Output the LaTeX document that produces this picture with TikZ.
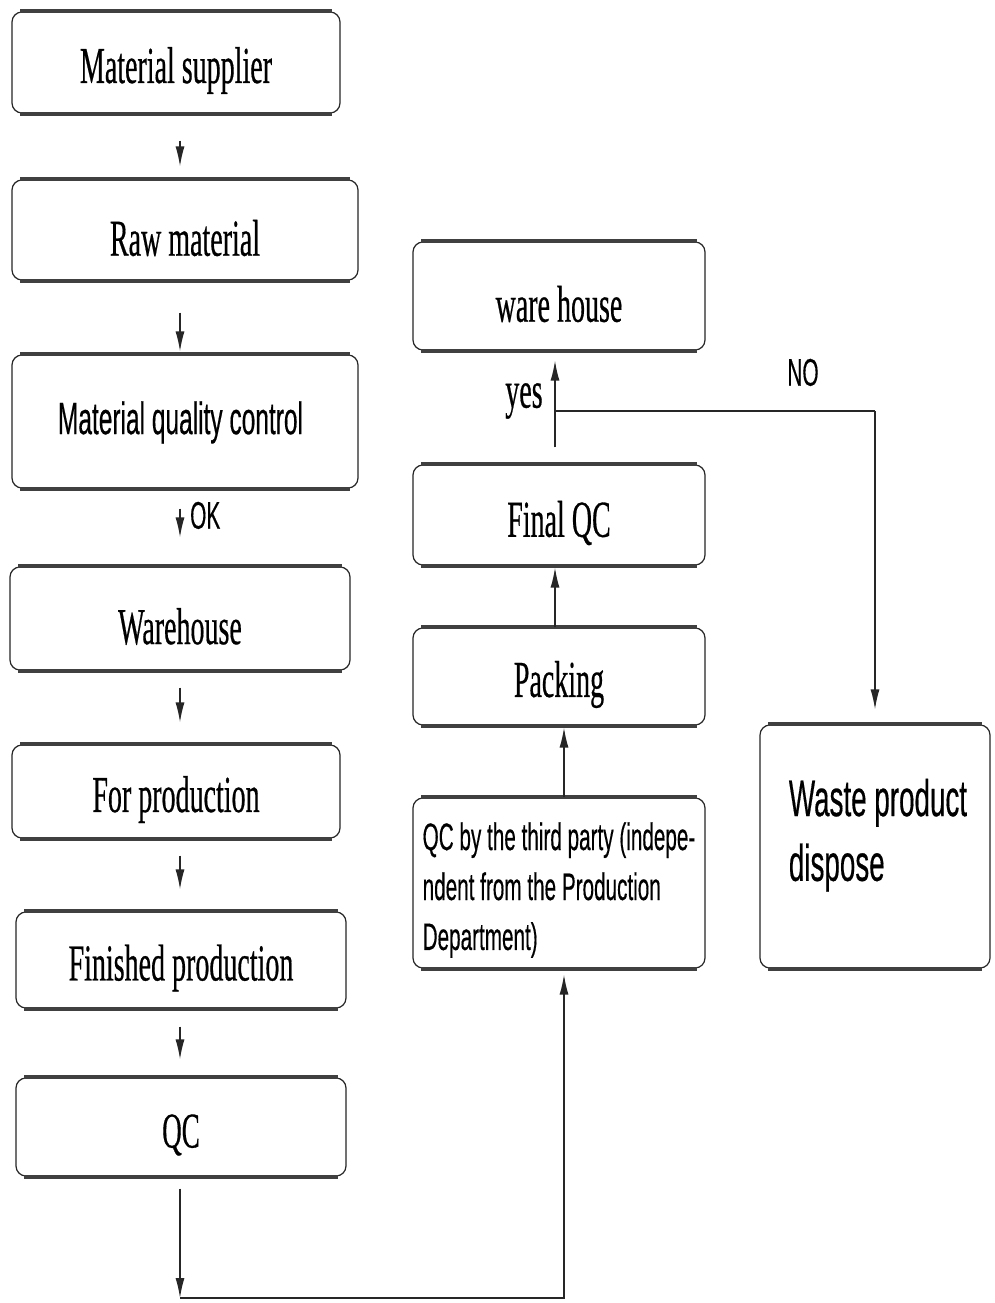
\documentclass[tikz,border=0pt]{standalone}
\usepackage{fontspec}
\usepackage{graphicx}
\setmainfont{Liberation Serif}
\setsansfont{Liberation Sans}
\newfontfamily\heavyserif[FakeBold=0.6]{Liberation Serif}
\newfontfamily\heavysans[FakeBold=0.5]{Liberation Sans}
\usetikzlibrary{arrows.meta}

% tall, narrow lettering: serif single line, and sans block of lines
\newcommand{\tallR}[2][28]{\raisebox{-8pt}[\height][\depth]{\scalebox{1}[1.85]{\fontsize{#1}{#1}\heavyserif #2}}}
\newcommand{\tallS}[3]{\scalebox{1}[1.85]{\fontsize{#1}{#2}\heavysans\begin{tabular}{@{}l@{}}#3\end{tabular}}}

\tikzset{
  box/.style={draw=black!85, line width=1.2pt, rounded corners=10pt, fill=white,
              inner sep=0pt, align=center},
  rim/.style={draw=black!75, line width=4pt, line cap=butt},
  line/.style={draw=black!85, line width=1.4pt},
  arr/.style={line, -{Latex[length=20pt,width=9pt]}},
  lab/.style={inner sep=0pt}
}

\begin{document}
\begin{tikzpicture}[x=1pt, y=-1pt]
  \useasboundingbox[fill=white] (0,0) rectangle (994,1303);

  % left column
  \node[box, minimum width=328, minimum height=101] (ms)  at (176,62.5)  {\tallR{Material supplier}};
  \node[box, minimum width=346, minimum height=100] (rm)  at (185,230)   {\tallR{Raw material}};
  \node[box, minimum width=346, minimum height=133] (mqc) at (185,421.5)
     {\hspace*{-9pt}\raisebox{-3pt}[\height][\depth]{\tallS{24.5}{24.5}{Material quality control}}};
  \node[box, minimum width=340, minimum height=103] (wh)  at (180,618.5) {\tallR{Warehouse}};
  \node[box, minimum width=328, minimum height=93]  (fp)  at (176,791.5) {\tallR{For production}};
  \node[box, minimum width=330, minimum height=96]  (fin) at (181,960)   {\tallR{Finished production}};
  \node[box, minimum width=330, minimum height=98]  (qc)  at (181,1127)  {\tallR[27]{QC}};

  % right column
  \node[box, minimum width=292, minimum height=108] (wh2) at (559,296)   {\tallR{ware house}};
  \node[box, minimum width=292, minimum height=100] (fqc) at (559,515)   {\tallR{Final QC}};
  \node[box, minimum width=292, minimum height=97]  (pk)  at (559,676.5) {\tallR{Packing}};
  \node[box, minimum width=292, minimum height=170] (tp)  at (559,883)
     {\raisebox{-7pt}[\height][\depth]{\tallS{20.7}{27}{QC by the third party (indepe-\\ndent from the Production\\Department)}}};
  \node[box, minimum width=230, minimum height=243] (waste) at (875,846.5)
     {\hspace*{6pt}\raisebox{11pt}[\height][\depth]{\tallS{27.8}{35}{Waste product\\dispose}}};

  % heavy upper and lower rims of every box
  \foreach \n in {ms,rm,mqc,wh,fp,fin,qc,wh2,fqc,pk,tp,waste} {
    \draw[rim] ([xshift=9pt]\n.north west) -- ([xshift=-9pt]\n.north east);
    \draw[rim] ([xshift=9pt]\n.south west) -- ([xshift=-9pt]\n.south east);
  }

  % guide columns
  \coordinate (cL) at (180,0);
  \coordinate (cM) at (555,0);
  \coordinate (cR) at (564,0);

  % left column flow
  \draw[arr, shorten <=27, shorten >=13] (ms.south -| cL)  -- (rm.north -| cL);
  \draw[arr, shorten <=32, shorten >=3]  (rm.south -| cL)  -- (mqc.north -| cL);
  \draw[arr, shorten <=20, shorten >=29] (mqc.south -| cL) -- (wh.north -| cL);
  \draw[arr, shorten <=17, shorten >=22] (wh.south -| cL)  -- (fp.north -| cL);
  \draw[arr, shorten <=17, shorten >=22] (fp.south -| cL)  -- (fin.north -| cL);
  \draw[arr, shorten <=18, shorten >=18] (fin.south -| cL) -- (qc.north -| cL);
  \node[lab, anchor=west] (ok) at (190,521) {\tallS{20.8}{20.8}{OK}};

  % QC to third-party check
  \coordinate (b1) at (180,1298);
  \coordinate (b2) at (564,1298);
  \draw[arr, shorten <=12] (qc.south -| cL) -- (b1);
  \draw[arr, shorten >=6] (b1) -- (b2) -- (tp.south -| cR);

  % right column flow
  \draw[arr, shorten >=2] (tp.north -| cR) -- (pk.south -| cR);
  \draw[arr, shorten >=2] (pk.north -| cM) -- (fqc.south -| cM);
  \draw[arr, shorten <=17, shorten >=10] (fqc.north -| cM) -- (wh2.south -| cM);

  % reject branch
  \coordinate (br)  at (555,411);
  \coordinate (brR) at (875,411);
  \draw[line] (br) -- (brR);
  \draw[arr, shorten >=15] (brR) -- (waste.north -| brR);

  \node[lab] (yes) at (524,393) {\tallR{yes}};
  \node[lab] (no)  at (803,378) {\tallS{20.8}{20.8}{NO}};
\end{tikzpicture}
\end{document}
